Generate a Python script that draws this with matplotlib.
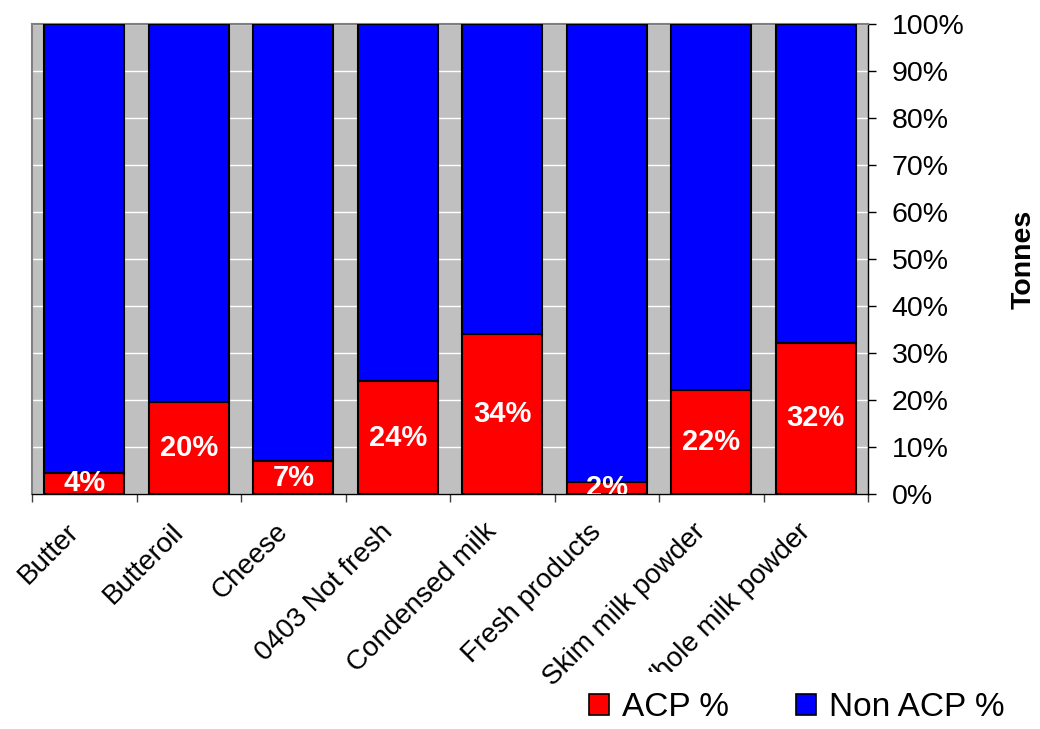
import matplotlib.pyplot as plt
import numpy as np
from matplotlib.patches import Rectangle, Patch

categories = ["Butter", "Butteroil", "Cheese", "0403 Not fresh", "Condensed milk",
              "Fresh products", "Skim milk powder", "Whole milk powder"]
acp = [4.5, 19.6, 7.0, 24.0, 34.0, 2.5, 22.1, 32.2]
acp_labels = ["4%", "20%", "7%", "24%", "34%", "2%", "22%", "32%"]
non_acp = [100 - v for v in acp]

plt.rcParams['font.family'] = ['Liberation Sans', 'DejaVu Sans']

W, H = 1040, 729
fig = plt.figure(figsize=(W / 100, H / 100), dpi=100)
ax = fig.add_axes([32 / W, 1 - 494 / H, (868 - 32) / W, (494 - 24) / H])
ax.set_facecolor('#C0C0C0')

x = np.arange(len(categories))
ax.bar(x, acp, width=0.766, color='#FF0000', edgecolor='black', linewidth=1.5, zorder=3)
ax.bar(x, non_acp, width=0.766, bottom=acp, color='#0000FF', edgecolor='black', linewidth=1.5, zorder=3)

for i in range(len(x)):
    t = ax.text(x[i], acp[i] / 2, acp_labels[i], ha='center', va='center', color='white',
                fontsize=21, fontweight='bold', zorder=4)
    t.set_clip_on(True)

ax.set_xlim(-0.5, len(categories) - 0.5)
ax.set_ylim(0, 100)
ax.set_yticks(np.arange(0, 101, 10))
ax.set_yticklabels([str(v) + "%" for v in range(0, 101, 10)], fontsize=20.5)
ax.yaxis.tick_right()
ax.yaxis.set_label_position('right')
ax.tick_params(axis='y', direction='out', length=6, width=1, pad=11)
ax.grid(axis='y', color='white', linewidth=1, zorder=0)
ax.set_ylabel("Tonnes", fontsize=20.5, fontweight='bold', labelpad=33)

ax.set_xticks(x)
ax.set_xticklabels(categories, fontsize=20, rotation=45, ha='right', va='bottom',
                   rotation_mode='anchor')
ax.tick_params(axis='x', length=0, pad=31)
ax.set_xticks(np.arange(-0.5, len(categories), 1), minor=True)
ax.tick_params(axis='x', which='minor', direction='out', length=6, width=1, color='#404040')

for s in ['left', 'top']:
    ax.spines[s].set_color('#808080')
    ax.spines[s].set_linewidth(1.5)
for s in ['right', 'bottom']:
    ax.spines[s].set_color('black')
    ax.spines[s].set_linewidth(1)

# white box behind legend (covers part of the last label as in the original)
fig.patches.append(Rectangle((585 / W, 0), (1040 - 585) / W, (729 - 672) / H,
                             transform=fig.transFigure, facecolor='white',
                             edgecolor='none', zorder=4))
handles = [Patch(facecolor='#FF0000', edgecolor='black', linewidth=1.2),
           Patch(facecolor='#0000FF', edgecolor='black', linewidth=1.2)]
fig.legend(handles, ["ACP %", "Non ACP %"], loc='center', bbox_to_anchor=(797 / W, 1 - 708 / H),
           ncol=2, frameon=False, fontsize=24, handlelength=0.6, handleheight=0.6,
           handletextpad=0.4, columnspacing=2.0)

fig.savefig("out.png", dpi=100)
